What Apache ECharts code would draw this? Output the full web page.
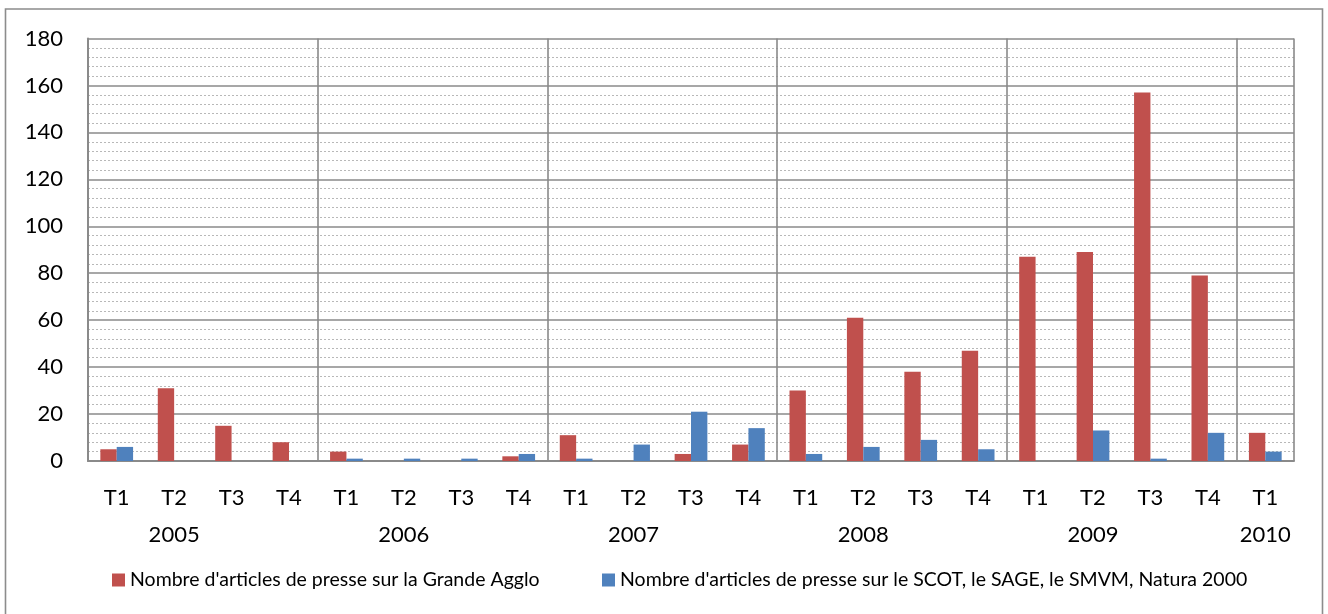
<!DOCTYPE html>
<html>
<head>
<meta charset="utf-8">
<script src="https://cdn.jsdelivr.net/npm/echarts@6/dist/echarts.min.js"></script>
<style>
  html, body { margin: 0; padding: 0; background: #ffffff; }
  #chart { width: 1328px; height: 614px; }
</style>
</head>
<body>
<div id="chart"></div>
<script>
// Quarterly press coverage, 2005 – 2010 (T1)
const years = ['2005', '2006', '2007', '2008', '2009', '2010'];
const quarters = ['T1', 'T2', 'T3', 'T4'];
const quartersInLastYear = 1;

const seriesNames = [
  "Nombre d'articles de presse sur la Grande Agglo",
  "Nombre d'articles de presse sur le SCOT, le SAGE, le SMVM, Natura 2000"
];

const grandeAggloValues = [5, 31, 15, 8, 4, 0, 0, 2, 11, 0, 3, 7, 30, 61, 38, 47, 87, 89, 157, 79, 12];
const scotSageValues    = [6, 0, 0, 0, 1, 1, 1, 3, 1, 7, 21, 14, 3, 6, 9, 5, 0, 13, 1, 12, 4];

const yTicks = { min: 0, max: 180, step: 20 };

// Category labels: quarter row plus a sparse year row (year placed under its 2nd quarter)
const quarterLabels = [];
const yearLabels = [];
years.forEach(function (y, yi) {
  const n = yi === years.length - 1 ? quartersInLastYear : quarters.length;
  for (let q = 0; q < n; q++) {
    quarterLabels.push(quarters[q]);
    yearLabels.push(q === Math.min(1, n - 1) ? y : '');
  }
});

const FONT = 'Lato, "Liberation Sans", sans-serif';
const GRID_GRAY = '#8a8a8a';

const chart = echarts.init(document.getElementById('chart'), null, { renderer: 'canvas' });

const legendBase = {
  top: 570, padding: 0,
  icon: 'rect', itemWidth: 13, itemHeight: 13, itemGap: 5,
  textStyle: { fontFamily: FONT, fontSize: 19.5, color: '#000' }
};

chart.setOption({
  animation: false,
  backgroundColor: '#ffffff',
  textStyle: { fontFamily: FONT },
  graphic: [{
    type: 'rect',
    shape: { x: 5.5, y: 9, width: 1317, height: 700 },
    style: { fill: 'none', stroke: '#8c8c8c', lineWidth: 1.6 },
    silent: true
  }],
  grid: { left: 88, right: 34, top: 38.5, bottom: 153, containLabel: false },
  legend: [
    Object.assign({}, legendBase, { data: [seriesNames[0]], left: 112 }),
    Object.assign({}, legendBase, { data: [seriesNames[1]], left: 602 })
  ],
  xAxis: [{
    type: 'category',
    data: quarterLabels,
    boundaryGap: true,
    axisLine: { show: true, lineStyle: { color: GRID_GRAY, width: 2 } },
    axisTick: { show: false },
    axisLabel: { interval: 0, margin: 26, fontSize: 22, color: '#000', fontFamily: FONT },
    splitLine: {
      show: true,
      interval: function (index) { return index > 0 && index % quarters.length === 0; },
      lineStyle: { color: GRID_GRAY, width: 1.6 }
    }
  }, {
    type: 'category',
    data: yearLabels,
    position: 'bottom',
    boundaryGap: true,
    axisLine: { show: false },
    axisTick: { show: false },
    axisLabel: { interval: 0, margin: 63, fontSize: 22, color: '#000', fontFamily: FONT },
    splitLine: { show: false }
  }],
  yAxis: {
    type: 'value',
    min: yTicks.min, max: yTicks.max, interval: yTicks.step,
    axisLine: { show: true, lineStyle: { color: GRID_GRAY, width: 2 } },
    axisTick: { show: false },
    axisLabel: { margin: 25, fontSize: 22, color: '#000', fontFamily: FONT },
    splitLine: { show: true, lineStyle: { color: GRID_GRAY, width: 1.6 } },
    minorTick: { show: false, splitNumber: 5 },
    minorSplitLine: { show: true, lineStyle: { color: '#b8b8b8', width: 1, type: [2, 2] } }
  },
  series: [{
    name: seriesNames[0],
    type: 'bar',
    xAxisIndex: 0,
    data: grandeAggloValues,
    barGap: '0%',
    barCategoryGap: '43%',
    itemStyle: { color: '#C0504D' }
  }, {
    name: seriesNames[1],
    type: 'bar',
    xAxisIndex: 0,
    data: scotSageValues,
    barGap: '0%',
    barCategoryGap: '43%',
    itemStyle: { color: '#4F81BD' }
  }]
});
</script>
</body>
</html>
